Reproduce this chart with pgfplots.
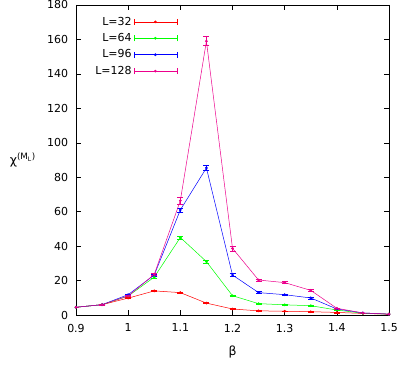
\documentclass[border=0pt]{standalone}
\usepackage{fontspec}
\setmainfont{DejaVu Sans}
\usepackage{pgfplots}
\pgfplotsset{compat=1.18}

\pgfplotsset{
  ebar/.style={
    line width=0.5pt, mark=*, mark size=1.1pt,
    error bars/.cd, y dir=both, y explicit,
    error bar style={line width=0.5pt},
    error mark options={rotate=90, mark size=3pt, line width=0.5pt},
    /pgfplots/.cd,
  },
  ebarlegend/.style={
    legend image code/.code={
      \draw[##1,mark repeat=2,mark phase=2] plot coordinates {(7pt,0pt)(28.5pt,0pt)(50pt,0pt)};
      \draw[##1,mark=none] (7pt,-3pt)--(7pt,3pt) (50pt,-3pt)--(50pt,3pt);
    }
  },
}

\begin{document}
\fontsize{11}{13}\selectfont
\begin{tikzpicture}
\begin{axis}[
    name=ax,
    scale only axis,
    width=313pt, height=310pt,
    xmin=0.9, xmax=1.5,
    ymin=0, ymax=180,
    xtick={0.9,1,1.1,1.2,1.3,1.4,1.5},
    ytick={0,20,40,60,80,100,120,140,160,180},
    tick align=inside,
    major tick length=5pt,
    minor tick num=0,
    tick style={black, line width=0.4pt},
    axis line style={line width=0.5pt},
    /pgf/number format/assume math mode=true,
    ticklabel style={font=\fontsize{11}{13}\selectfont},
    xticklabel style={yshift=-5pt},
    yticklabel style={xshift=-4pt},
    xlabel={β},
    xlabel style={font=\fontsize{12.5}{14}\selectfont, at={(0.5,0)}, anchor=center, yshift=-37pt},
    ylabel={χ\textsuperscript{(M\textsubscript{L})}},
    ylabel style={rotate=-90, font=\fontsize{12.5}{14}\selectfont, at={(-0.17,0.5)}, anchor=center},
    legend style={draw=none, fill=none, at={(0.045,0.975)}, anchor=north west,
      font=\fontsize{11}{13}\selectfont, row sep=2.6pt},
    legend cell align=right,
    legend plot pos=right,
]
\addplot[red, ebarlegend, ebar] coordinates {
  (0.90,4.5) +- (0,0.2)
  (0.95,6.0) +- (0,0.2)
  (1.00,9.8) +- (0,0.3)
  (1.05,14.0) +- (0,0.4)
  (1.10,13.0) +- (0,0.4)
  (1.15,6.9) +- (0,0.3)
  (1.20,3.5) +- (0,0.2)
  (1.25,2.4) +- (0,0.2)
  (1.30,2.2) +- (0,0.2)
  (1.35,1.9) +- (0,0.2)
  (1.40,1.5) +- (0,0.2)
  (1.45,0.9) +- (0,0.1)
  (1.50,0.5) +- (0,0.1)
};
\addlegendentry{L=32}
\addplot[green, ebarlegend, ebar] coordinates {
  (0.90,4.5) +- (0,0.2)
  (0.95,6.0) +- (0,0.2)
  (1.00,11.0) +- (0,0.4)
  (1.05,22.0) +- (0,0.6)
  (1.10,45.0) +- (0,1.0)
  (1.15,31.0) +- (0,0.8)
  (1.20,11.2) +- (0,0.4)
  (1.25,6.6) +- (0,0.3)
  (1.30,5.9) +- (0,0.3)
  (1.35,5.4) +- (0,0.3)
  (1.40,2.9) +- (0,0.2)
  (1.45,1.0) +- (0,0.1)
  (1.50,0.5) +- (0,0.1)
};
\addlegendentry{L=64}
\addplot[blue, ebarlegend, ebar] coordinates {
  (0.90,4.5) +- (0,0.2)
  (0.95,6.0) +- (0,0.2)
  (1.00,11.8) +- (0,0.4)
  (1.05,23.2) +- (0,0.7)
  (1.10,61.0) +- (0,1.2)
  (1.15,85.4) +- (0,1.5)
  (1.20,23.2) +- (0,0.8)
  (1.25,13.0) +- (0,0.5)
  (1.30,11.8) +- (0,0.5)
  (1.35,9.9) +- (0,0.5)
  (1.40,3.5) +- (0,0.3)
  (1.45,1.2) +- (0,0.1)
  (1.50,0.5) +- (0,0.1)
};
\addlegendentry{L=96}
\addplot[magenta, ebarlegend, ebar] coordinates {
  (0.90,4.5) +- (0,0.2)
  (0.95,6.0) +- (0,0.2)
  (1.00,11.0) +- (0,0.4)
  (1.05,23.6) +- (0,0.8)
  (1.10,66.4) +- (0,2.0)
  (1.15,159.0) +- (0,2.6)
  (1.20,38.7) +- (0,1.4)
  (1.25,20.3) +- (0,0.6)
  (1.30,18.8) +- (0,0.6)
  (1.35,14.3) +- (0,0.8)
  (1.40,3.9) +- (0,0.3)
  (1.45,1.2) +- (0,0.1)
  (1.50,0.5) +- (0,0.1)
};
\addlegendentry{L=128}
\end{axis}
\pgfresetboundingbox
\path ([xshift=-76pt,yshift=-50pt]ax.south west) rectangle ([xshift=10pt,yshift=5pt]ax.north east);
\end{tikzpicture}
\end{document}
